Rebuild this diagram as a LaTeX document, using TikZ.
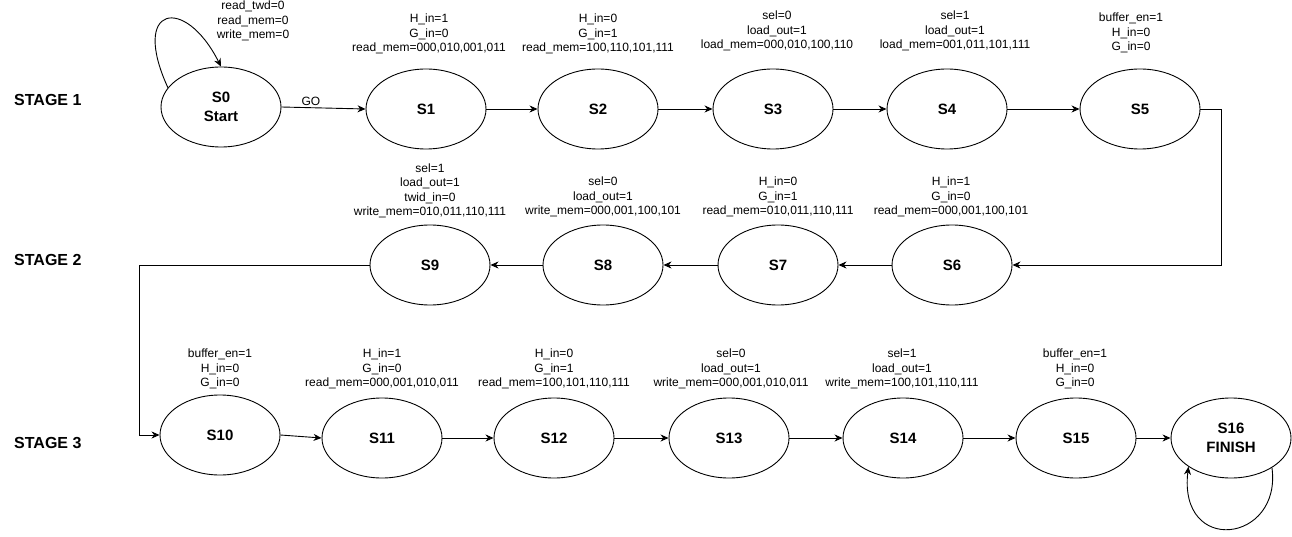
\documentclass[tikz,border=0pt]{standalone}
\usepackage{fontspec}
\setmainfont{Liberation Sans}
\usetikzlibrary{arrows.meta,shapes.geometric}
\begin{document}
\begin{tikzpicture}[x=1pt,y=-1pt,
  state/.style={draw,ellipse,line width=0.9pt,minimum width=120pt,minimum height=80pt,inner sep=0pt,
    font=\fontsize{15}{19}\selectfont\bfseries,align=center},
  lbl/.style={font=\fontsize{12}{14.5}\selectfont,align=center,inner sep=0pt},
  stagelbl/.style={font=\fontsize{16}{19}\selectfont\bfseries,anchor=west,inner sep=0pt},
  arr/.style={line width=0.9pt,-{Stealth[length=8pt,width=7pt,inset=2.5pt]}}]
\useasboundingbox[fill=white] (0,0) rectangle (1292,537);
% stage labels
\node[stagelbl] (st1) at (14,100) {STAGE 1};
\node[stagelbl] (st2) at (14,260) {STAGE 2};
\node[stagelbl] (st3) at (14,443) {STAGE 3};
% states
\node[state] (S0) at (221,107) {S0\\Start};
\node[state] (S1) at (426,109) {S1};
\node[state] (S2) at (598,109) {S2};
\node[state] (S3) at (773,109) {S3};
\node[state] (S4) at (947,109) {S4};
\node[state] (S5) at (1140,109) {S5};
\node[state] (S9) at (430,265) {S9};
\node[state] (S8) at (603,265) {S8};
\node[state] (S7) at (778,265) {S7};
\node[state] (S6) at (952,265) {S6};
\node[state] (S10) at (220,435) {S10};
\node[state] (S11) at (382,438) {S11};
\node[state] (S12) at (554,438) {S12};
\node[state] (S13) at (729,438) {S13};
\node[state] (S14) at (903,438) {S14};
\node[state] (S15) at (1076,438) {S15};
\node[state] (S16) at (1231,438) {S16\\FINISH};
% output labels
\node[lbl] (L0) at (253,21) {read\_twd=0\\read\_mem=0\\write\_mem=0};
\node[lbl] (L1) at (429,34) {H\_in=1\\G\_in=0\\read\_mem=000,010,001,011};
\node[lbl] (L2) at (598,34) {H\_in=0\\G\_in=1\\read\_mem=100,110,101,111};
\node[lbl] (L3) at (777,31) {sel=0\\load\_out=1\\load\_mem=000,010,100,110};
\node[lbl] (L4) at (955,31) {sel=1\\load\_out=1\\load\_mem=001,011,101,111};
\node[lbl] (L5) at (1131,33) {buffer\_en=1\\H\_in=0\\G\_in=0};
\node[lbl] (L9) at (430,191) {sel=1\\load\_out=1\\twid\_in=0\\write\_mem=010,011,110,111};
\node[lbl] (L8) at (603,197) {sel=0\\load\_out=1\\write\_mem=000,001,100,101};
\node[lbl] (L7) at (778,197) {H\_in=0\\G\_in=1\\read\_mem=010,011,110,111};
\node[lbl] (L6) at (951,197) {H\_in=1\\G\_in=0\\read\_mem=000,001,100,101};
\node[lbl] (L10) at (220,369) {buffer\_en=1\\H\_in=0\\G\_in=0};
\node[lbl] (L11) at (382,369) {H\_in=1\\G\_in=0\\read\_mem=000,001,010,011};
\node[lbl] (L12) at (554,369) {H\_in=0\\G\_in=1\\read\_mem=100,101,110,111};
\node[lbl] (L13) at (731,369) {sel=0\\load\_out=1\\write\_mem=000,001,010,011};
\node[lbl] (L14) at (902,369) {sel=1\\load\_out=1\\write\_mem=100,101,110,111};
\node[lbl] (L15) at (1075,369) {buffer\_en=1\\H\_in=0\\G\_in=0};
% corner points
\coordinate (c1) at (1221,109);
\coordinate (c2) at (139,265);
% transitions
\draw[arr] (S0.160) .. controls (130,5) and (185,-5) .. (S0.north);
\draw[arr] (S0.east) -- node[pos=0.35,above,lbl,yshift=2pt] (go) {GO} (S1.west);
\draw[arr] (S1) -- (S2);
\draw[arr] (S2) -- (S3);
\draw[arr] (S3) -- (S4);
\draw[arr] (S4) -- (S5);
\draw[arr] (S5.east) -- (c1) |- (S6.east);
\draw[arr] (S6) -- (S7);
\draw[arr] (S7) -- (S8);
\draw[arr] (S8) -- (S9);
\draw[arr] (S9.west) -- (c2) |- (S10.west);
\draw[arr] (S10.east) -- (S11.west);
\draw[arr] (S11) -- (S12);
\draw[arr] (S12) -- (S13);
\draw[arr] (S13) -- (S14);
\draw[arr] (S14) -- (S15);
\draw[arr] (S15) -- (S16);
\draw[arr] (S16.-36) .. controls (1282,543) and (1178,556) .. (S16.-146);
\end{tikzpicture}
\end{document}
